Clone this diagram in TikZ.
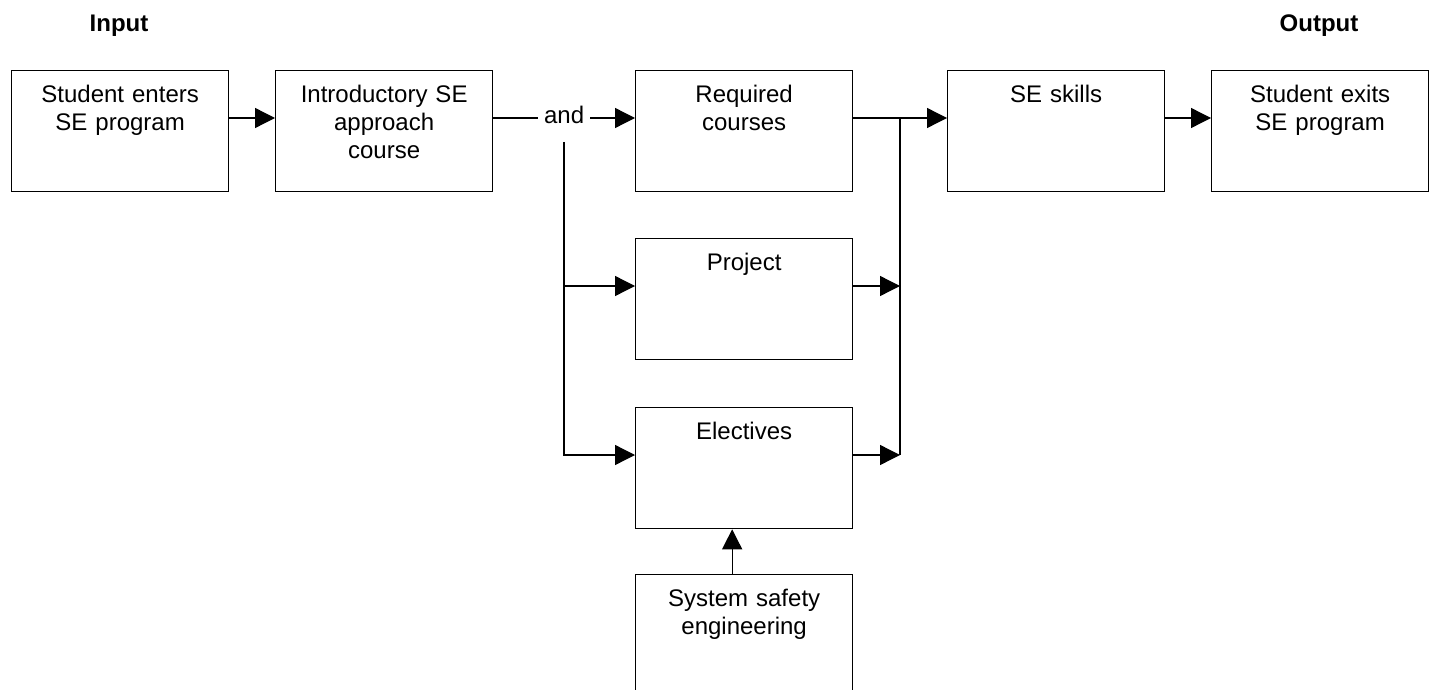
\documentclass[tikz,border=0pt]{standalone}
\usepackage{fontspec}
\setmainfont{Liberation Sans}
\usetikzlibrary{arrows.meta,calc}
\begin{document}
\begin{tikzpicture}[x=1pt,y=-1pt,line width=1.3pt,
  txt/.style={font=\fontsize{24}{28}\selectfont},
  box/.style={txt,draw,rectangle,anchor=north west,inner sep=0pt,
    text width=217pt,align=center,text height=32pt,text depth=89pt},
  arr/.style={-{Triangle[length=20pt,width=20pt]}},
  head/.style={font=\fontsize{24}{28}\selectfont\bfseries,anchor=base},
  andlbl/.style={txt,fill=white,inner xsep=6pt,inner ysep=0pt,
    text height=12pt,text depth=0pt}]
\useasboundingbox (0,0) rectangle (1429,690);
\clip (0,0) rectangle (1429,690);

% headings
\node[head] (inp) at (119,32) {Input};
\node[head] (outp) at (1319,32) {Output};

% main row
\node[box] (enter)  at (11,70)   {Student enters\\SE program};
\node[box] (intro)  at (275,70)  {Introductory SE\\approach\\course};
\node[box] (req)    at (635,70)  {Required\\courses};
\node[box] (skills) at (947,70)  {SE skills};
\node[box] (exits)  at (1211,70) {Student exits\\SE program};

% parallel branches
\node[box] (proj)   at (635,238) {Project};
\node[box] (elec)   at (635,407) {Electives};
\node[box] (safety) at (635,574) {System safety\\engineering};

% connection points 48 units below each box top
\foreach \n in {enter,intro,req,skills,exits,proj,elec}{
  \coordinate (\n-in)  at ([yshift=-48pt]\n.north west);
  \coordinate (\n-out) at ([yshift=-48pt]\n.north east);
}
\coordinate (split) at (564,142);
\coordinate (bus) at (900,0);

\draw[arr] (enter-out) -- (intro-in);
\draw[arr] (intro-out) -- node[andlbl] (and) {and} (req-in);

% fan-out to project and electives
\draw[arr] (split) |- (elec-in);
\draw[arr] (split |- proj-in) -- (proj-in);

% merge into SE skills
\draw[arr] (req-out) -- (skills-in);
\draw (req-out -| bus) -- (elec-out -| bus);
\draw[arr] (proj-out) -- (proj-out -| bus);
\draw[arr] (elec-out) -- (elec-out -| bus);

\draw[arr] (skills-out) -- (exits-in);

% safety feeds electives
\draw[arr] ([xshift=-12pt]safety.north) -- ([xshift=-12pt]elec.south);
\end{tikzpicture}
\end{document}
